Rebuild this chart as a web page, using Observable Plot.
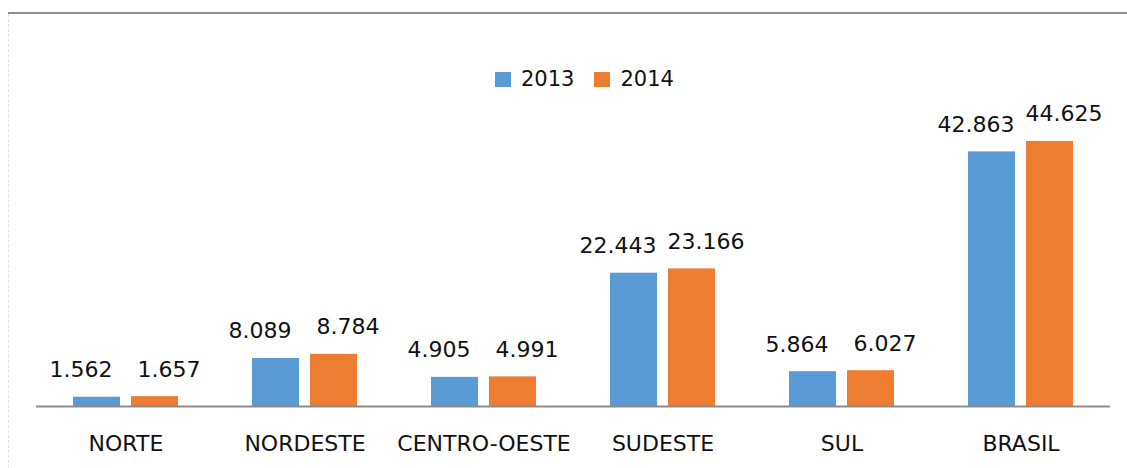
<!DOCTYPE html>
<html>
<head>
<meta charset="utf-8">
<script src="https://cdn.jsdelivr.net/npm/d3@7"></script>
<script src="https://cdn.jsdelivr.net/npm/@observablehq/plot@0.6"></script>
<style>
  html, body { margin: 0; padding: 0; background: #fff; }
  body { position: relative; width: 1127px; height: 468px; overflow: hidden; font-family: "DejaVu Sans", sans-serif; }
  #topline { position: absolute; left: 8px; top: 12px; width: 1119px; height: 2px; background: #8e8e8e; }
  #leftline { position: absolute; left: 8px; top: 14px; height: 454px; border-left: 1px dashed #e2e2e2; }
  #legend { position: absolute; left: 495px; top: 60px; height: 38px; display: flex; align-items: center; font-size: 21px; color: #111; }
  #legend .sq { width: 16px; height: 15px; display: inline-block; }
  #legend .lab { margin-left: 10px; margin-right: 20px; }
  #chart { position: absolute; left: 0; top: 100px; }
</style>
</head>
<body>
<div id="topline"></div>
<div id="leftline"></div>
<div id="legend"></div>
<div id="chart"></div>
<script>
const regions = ["NORTE", "NORDESTE", "CENTRO-OESTE", "SUDESTE", "SUL", "BRASIL"];
const years = ["2013", "2014"];
const values2013 = [1562, 8089, 4905, 22443, 5864, 42863];
const values2014 = [1657, 8784, 4991, 23166, 6027, 44625];
const colors = ["#5B9BD5", "#ED7D31"];

const data = [];
regions.forEach((r, i) => {
  data.push({region: r, year: years[0], value: values2013[i]});
  data.push({region: r, year: years[1], value: values2014[i]});
});

const fmt = d3.formatLocale({decimal: ",", thousands: ".", grouping: [3], currency: ["R$", ""]}).format(",d");

const legend = document.getElementById("legend");
years.forEach((y, i) => {
  const sq = document.createElement("span");
  sq.className = "sq";
  sq.style.background = colors[i];
  const lab = document.createElement("span");
  lab.className = "lab";
  lab.textContent = y;
  legend.appendChild(sq);
  legend.appendChild(lab);
});

const chart = Plot.plot({
  width: 1127,
  height: 368,
  marginLeft: 36,
  marginRight: 17,
  marginTop: 9,
  marginBottom: 62,
  style: {fontFamily: "'DejaVu Sans', sans-serif", fontSize: "22px", color: "#111", background: "transparent"},
  fx: {domain: regions, padding: 0, label: null, tickSize: 0, tickPadding: 29},
  x: {domain: years, paddingInner: 0.19, paddingOuter: 0.62, axis: null},
  y: {domain: [0, 50000], axis: null},
  color: {domain: years, range: colors},
  marks: [
    Plot.barY(data, {fx: "region", x: "year", y: "value", fill: "year"}),
    Plot.ruleY([0], {stroke: "#8c8c8c", strokeWidth: 2}),
    Plot.text(data.filter(d => d.year === years[0]), {fx: "region", x: "year", y: "value", text: d => fmt(d.value), dy: -27, dx: -16, fill: "#111"}),
    Plot.text(data.filter(d => d.year === years[1]), {fx: "region", x: "year", y: "value", text: d => fmt(d.value), dy: -27, dx: 14, fill: "#111"})
  ]
});
document.getElementById("chart").appendChild(chart);
</script>
</body>
</html>
